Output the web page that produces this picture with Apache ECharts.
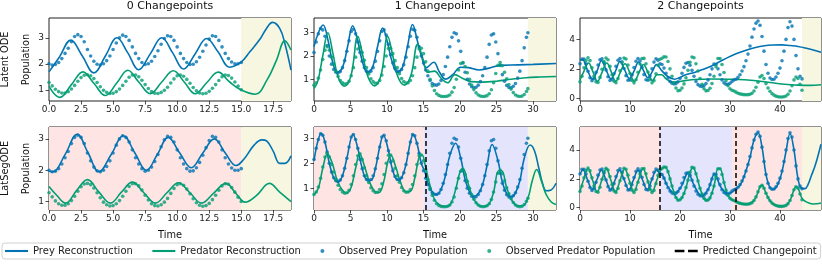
<!DOCTYPE html>
<html><head><meta charset="utf-8">
<script src="https://cdn.jsdelivr.net/npm/echarts@6/dist/echarts.min.js"></script>
<style>html,body{margin:0;padding:0;background:#fff}#c{width:822px;height:266px}</style>
</head><body><div id="c"></div><script>
// ---------- data ----------
const TITLES = ['0 Changepoints', '1 Changepoint', '2 Changepoints'];
const ROW_LABELS = ['Latent ODE', 'LatSegODE'];
const SERIES_NAMES = ['Prey Reconstruction', 'Predator Reconstruction', 'Observed Prey Population', 'Observed Predator Population', 'Predicted Changepoint'];

const X_MAX = [18.88, 33.15, 48.2];
const X_TICKS = [[0, 2.5, 5, 7.5, 10, 12.5, 15, 17.5], [0, 5, 10, 15, 20, 25, 30], [0, 10, 20, 30, 40]];
const Y_RANGE = [[0.57, 3.76], [0.07, 3.63], [-0.18, 5.45], [0.73, 3.38], [0.13, 3.45], [-0.16, 5.6]];
const Y_TICKS = [[1, 2, 3], [1, 2, 3], [0, 2, 4], [1, 2, 3], [1, 2, 3], [0, 2, 4]];

// observed data (shared by both rows of a column)
const obsT1 = [0,0.25,0.5,0.75,1,1.25,1.5,1.75,2,2.25,2.5,2.75,3,3.25,3.5,3.75,4,4.25,4.5,4.75,5,5.25,5.5,5.75,6,6.25,6.5,6.75,7,7.25,7.5,7.75,8,8.25,8.5,8.75,9,9.25,9.5,9.75,10,10.25,10.5,10.75,11,11.25,11.5,11.75,12,12.25,12.5,12.75,13,13.25,13.5,13.75,14,14.25,14.5,14.75,15];
const obsPrey1 = [2.0,1.95,1.97,2.05,2.2,2.4,2.6,2.85,3.05,3.12, 3.05,2.85,2.55,2.3,2.1,1.98,1.95,2.0,2.12,2.3, 2.55,2.8,3.0,3.1,3.05,2.9,2.65,2.4,2.2,2.05, 1.97,2.0,2.1,2.28,2.5,2.75,2.97,3.08,3.05,2.9, 2.65,2.4,2.2,2.05,1.97,1.98,2.08,2.25,2.48,2.72, 2.95,3.08,3.05,2.9,2.65,2.4,2.2,2.07,2.0,2.0, 2.05];
const obsPred1 = [1.28,1.15,1.02,0.93,0.88,0.88,0.93,1.03,1.17,1.33, 1.47,1.56,1.58,1.54,1.43,1.28,1.12,0.98,0.9,0.86, 0.87,0.93,1.03,1.17,1.33,1.48,1.57,1.57,1.5,1.37, 1.2,1.05,0.93,0.87,0.86,0.9,0.98,1.1,1.26,1.42, 1.54,1.57,1.52,1.4,1.25,1.09,0.96,0.88,0.85,0.87, 0.94,1.06,1.2,1.36,1.5,1.57,1.55,1.45,1.3,1.14, 1.0];

const obsT2 = [0,0.3,0.6,0.9,1.2,1.5,1.8,2.1,2.4,2.7, 3,3.3,3.6,3.9,4.2,4.5,4.8,5.1,5.4,5.7, 6,6.3,6.6,6.9,7.2,7.5,7.8,8.1,8.4,8.7, 9,9.3,9.6,9.9,10.2,10.5,10.8,11.1,11.4,11.7, 12,12.3,12.6,12.9,13.2,13.5,13.8,14.1,14.4,14.7, 15,15.3,15.6,15.9,16.2,16.5,16.8,17.1,17.4,17.7, 18,18.3,18.6,18.9,19.2,19.5,19.8,20.1,20.4,20.7, 21,21.3,21.6,21.9,22.2,22.5,22.8,23.1,23.4,23.7, 24,24.3,24.6,24.9,25.2,25.5,25.8,26.1,26.4,26.7, 27,27.3,27.6,27.9,28.2,28.5,28.8,29.1,29.3];
const obsPrey2 = [2.15,2.6,2.95,3.18,3.12,2.85,2.45,2.0,1.65,1.42, 1.3,1.27,1.33,1.5,1.8,2.2,2.65,3.05,3.15,2.95, 2.6,2.15,1.78,1.5,1.35,1.3,1.35,1.5,1.78,2.2, 2.65,3.05,3.12,2.9,2.5,2.05,1.7,1.47,1.35,1.33, 1.42,1.62,1.95,2.4,2.85,3.15,3.1,2.8,2.4,2.0, 1.7,1.4,1.15,0.95,0.82,0.76,0.75,0.8,0.95,1.2, 1.55,1.95,2.4,2.8,3.0,2.95,2.65,2.2,1.7,1.3, 1.0,0.8,0.68,0.64,0.66,0.75,0.9,1.15,1.5,1.95, 2.5,2.9,2.95,2.6,2.1,1.6,1.2,0.92,0.74,0.65, 0.64,0.7,0.82,1.05,1.35,1.8,2.35,2.8,3.0];
const obsPred2 = [0.75,0.85,1.05,1.4,1.85,2.25,2.4,2.25,1.95,1.65, 1.35,1.12,0.95,0.85,0.8,0.82,0.92,1.15,1.5,1.95, 2.3,2.38,2.15,1.82,1.5,1.23,1.02,0.9,0.83,0.84, 0.95,1.18,1.55,2.0,2.32,2.33,2.1,1.8,1.5,1.24, 1.03,0.9,0.84,0.85,0.95,1.15,1.5,1.95,2.3,2.33, 2.1,1.75,1.35,1.0,0.72,0.52,0.38,0.31,0.27,0.26, 0.26,0.28,0.33,0.45,0.65,1.0,1.4,1.68,1.72,1.55, 1.28,1.0,0.75,0.56,0.42,0.33,0.28,0.26,0.27,0.3, 0.38,0.55,0.85,1.25,1.6,1.72,1.58,1.3,1.02,0.78, 0.58,0.43,0.33,0.28,0.26,0.28,0.35,0.48,0.6];

const obsT3 = [0,0.4,0.8,1.2,1.6,2,2.4,2.8,3.2,3.6, 4,4.4,4.8,5.2,5.6,6,6.4,6.8,7.2,7.6, 8,8.4,8.8,9.2,9.6,10,10.4,10.8,11.2,11.6, 12,12.4,12.8,13.2,13.6,14,14.4,14.8,15.2,15.6, 16,16.4,16.8,17.2,17.6,18,18.4,18.8,19.2,19.6, 20,20.4,20.8,21.2,21.6,22,22.4,22.8,23.2,23.6, 24,24.4,24.8,25.2,25.6,26,26.4,26.8,27.2,27.6, 28,28.4,28.8,29.2,29.6,30,30.4,30.8,31.2,31.6, 32,32.4,32.8,33.2,33.6,34,34.4,34.8,35.2,35.6, 36,36.4,36.8,37.2,37.6,38,38.4,38.8,39.2,39.6, 40,40.4,40.8,41.2,41.6,42,42.4,42.8,43.2,43.6, 44,44.4];
const obsPrey3 = [2.34,2.66,2.66,2.34,1.84,1.40,1.20,1.34,1.76,2.26, 2.62,2.68,2.41,1.93,1.46,1.21,1.29,1.67,2.17,2.58, 2.70,2.48,2.02,1.54,1.23,1.25,1.59,2.09,2.52,2.70, 2.54,2.11,1.61,1.26,1.23,1.51,2.0,2.46,2.69,2.59, 2.35,2.3,2.05,1.7,1.38,1.15,1.02,0.97,1.0,1.12, 1.35,1.7,2.1,2.38,2.43,2.25,1.9,1.5,1.15,0.93, 0.83,0.81,0.86,1.0,1.25,1.6,2.0,2.33,2.3,2.0, 1.6,1.25,1.05,0.96,0.95,1.02,1.15,1.25,1.3,1.42, 1.6,1.85,2.15,2.55,3.0,3.55,4.15,4.7,5.1,5.25, 4.95,4.2,3.2,2.3,1.7,1.38,1.28,1.3,1.45,1.7, 2.05,2.55,3.2,4.0,4.8,5.2,4.9,4.0,2.9,2.0, 1.5,1.32];
const obsPred3 = [1.12,1.50,2.07,2.56,2.75,2.56,2.07,1.50,1.12,1.08, 1.42,1.97,2.49,2.74,2.62,2.17,1.60,1.16,1.06,1.34, 1.87,2.41,2.73,2.67,2.26,1.69,1.22,1.05,1.26,1.77, 2.33,2.70,2.71,2.35,1.79,1.28,1.05,1.20,1.67,2.24, 2.65,2.72,2.82,2.8,2.5,2.0,1.5,1.05,0.7,0.52, 0.55,0.7,0.98,1.4,1.9,2.45,2.8,2.75,2.35,1.85, 1.35,0.95,0.65,0.51,0.53,0.68,1.0,1.5,2.15,2.7, 2.7,2.3,1.75,1.2,0.85,0.65,0.55,0.5,0.42,0.35, 0.3,0.27,0.25,0.24,0.25,0.28,0.35,0.5,0.75,1.1, 1.45,1.55,1.35,1.0,0.7,0.48,0.32,0.22,0.15,0.11, 0.09,0.09,0.11,0.16,0.28,0.5,0.85,1.25,1.45,1.35, 0.95,0.55];

// reconstructions [time, value]
const latentPrey1 = [[0,1.69],[0.8,2.25],[1.7,2.91],[2.6,2.3],[3.5,1.65],[4.4,2.3],[5.3,3.0],[6.15,2.42],[7.0,1.77],[7.9,2.38],[8.8,3.0],[9.65,2.42],[10.5,1.8],[11.4,2.38],[12.3,2.97],[13.2,2.45],[14.1,1.87],[15.0,2.07],[15.67,2.46],[16.45,2.94],[16.97,3.36],[17.44,3.59],[18.0,3.36],[18.4,2.78],[18.88,1.76]];
const latentPred1 = [[0,1.14],[0.4,0.85],[0.85,0.71],[1.75,1.2],[2.65,1.69],[3.5,1.25],[4.4,0.78],[5.3,1.27],[6.15,1.75],[7.0,1.3],[7.9,0.85],[8.8,1.3],[9.7,1.73],[10.55,1.3],[11.4,0.85],[12.3,1.27],[13.2,1.68],[14.1,1.3],[15.0,0.99],[16.1,0.83],[17.0,1.37],[17.75,2.14],[18.4,2.88],[18.88,2.53]];
const segPrey1 = [[0,1.97],[0.3,1.95],[1.25,2.5],[2.2,3.15],[3.05,2.55],[3.9,1.95],[4.85,2.5],[5.8,3.1],[6.7,2.55],[7.6,2.0],[8.45,2.5],[9.3,3.05],[10.2,2.55],[11.1,2.08],[12.0,2.55],[12.9,3.0],[13.75,2.55],[14.6,2.15],[15.2,2.35],[16.0,2.8],[16.6,2.97],[17.0,2.93],[17.5,2.6],[18.0,2.22],[18.4,2.22],[18.88,2.46]];
const segPred1 = [[0,1.48],[0.6,1.2],[1.3,0.95],[2.15,1.35],[3.0,1.7],[3.9,1.3],[4.8,0.95],[5.65,1.3],[6.5,1.62],[7.4,1.28],[8.3,0.95],[9.2,1.28],[10.1,1.6],[11.0,1.28],[11.9,0.95],[12.85,1.27],[13.8,1.58],[14.6,1.25],[15.3,0.98],[16.2,1.2],[17.2,1.58],[18.0,1.3],[18.88,1.0]];

const latentPrey2 = [[0,2.4],[0.6,3.0],[1.25,3.33],[1.9,2.7],[2.5,1.8],[3.2,1.3],[3.9,1.5],[4.6,2.4],[5.3,3.3],[5.95,2.7],[6.6,1.8],[7.3,1.3],[8.0,1.5],[8.7,2.4],[9.4,3.2],[10.05,2.6],[10.7,1.75],[11.4,1.3],[12.1,1.5],[12.8,2.4],[13.5,3.35],[14.2,2.6],[14.8,1.9],[15.4,1.5],[16.4,1.73],[17.2,1.3],[18.0,1.01],[19.0,1.2],[20.1,1.52],[21.2,1.5],[22.6,1.4],[24.0,1.48],[25.5,1.6],[28.0,1.62],[30.0,1.64],[33.15,1.68]];
const latentPred2 = [[0,0.61],[0.5,0.9],[1.2,2.0],[1.9,3.0],[2.6,2.1],[3.3,1.1],[4.2,0.7],[5.1,1.2],[6.0,2.85],[6.7,2.0],[7.4,1.1],[8.3,0.72],[9.2,1.2],[10.1,2.85],[10.8,2.0],[11.5,1.1],[12.4,0.75],[13.3,1.2],[14.2,2.5],[14.9,1.9],[15.6,1.3],[16.5,1.35],[17.4,1.05],[18.3,0.85],[19.3,1.2],[20.3,1.05],[21.5,0.9],[23.0,0.88],[25.0,0.92],[27.0,1.0],[29.0,1.07],[31.0,1.1],[33.15,1.12]];
const segPrey2 = [[0,2.1],[0.5,2.85],[1.0,3.2],[1.5,2.85],[2.1,2.0],[2.7,1.42],[3.3,1.25],[3.9,1.5],[4.5,2.2],[5.35,3.15],[6.0,2.6],[6.6,1.8],[7.2,1.35],[7.8,1.32],[8.4,1.78],[9.0,2.65],[9.5,3.12],[10.2,2.5],[10.8,1.7],[11.5,1.33],[12.0,1.42],[12.6,1.95],[13.2,2.85],[13.6,3.15],[14.1,2.8],[14.7,2.0],[15.25,1.6],[15.6,1.2],[16.2,0.85],[16.8,0.75],[17.4,0.95],[18.0,1.5],[18.6,2.3],[19.4,2.8],[20.1,2.2],[20.7,1.35],[21.3,0.85],[21.9,0.68],[22.5,0.78],[23.1,1.15],[23.7,1.9],[24.4,2.75],[25.2,2.1],[25.8,1.25],[26.4,0.78],[27.0,0.66],[27.6,0.82],[28.2,1.3],[28.8,2.2],[29.6,2.73],[30.2,2.5],[30.8,1.8],[31.3,1.2],[31.8,0.9],[32.4,0.92],[33.15,1.2]];
const segPred2 = [[0,0.75],[0.6,1.0],[1.2,1.8],[1.85,2.38],[2.5,2.0],[3.2,1.3],[3.9,0.92],[4.5,0.8],[5.1,1.05],[5.7,1.8],[6.25,2.38],[6.9,1.9],[7.6,1.25],[8.3,0.88],[8.9,0.83],[9.5,1.2],[10.1,2.05],[10.5,2.33],[11.2,1.85],[11.9,1.2],[12.6,0.86],[13.2,0.88],[13.8,1.4],[14.4,2.25],[14.8,2.33],[15.25,1.9],[15.9,1.1],[16.5,0.55],[17.2,0.33],[18.0,0.27],[18.7,0.36],[19.4,0.95],[20.0,1.65],[20.4,1.8],[21.0,1.3],[21.6,0.75],[22.4,0.35],[23.2,0.27],[24.0,0.38],[24.6,0.85],[25.3,1.7],[25.7,1.7],[26.4,1.02],[27.1,0.52],[27.9,0.3],[28.6,0.3],[29.3,0.6],[29.9,1.3],[30.5,1.75],[31.2,1.25],[31.8,0.75],[32.5,0.45],[33.15,0.35]];

const latentPrey3 = [[0,2.6],[0.5,2.62],[1.5,1.9],[2.5,1.3],[3.4,1.85],[4.3,2.55],[5.2,1.95],[6.2,1.32],[7.1,1.85],[8.0,2.5],[8.9,1.95],[9.9,1.35],[10.8,1.85],[11.7,2.45],[12.6,1.95],[13.6,1.4],[14.5,1.85],[15.3,2.3],[16.3,1.9],[17.5,1.5],[18.9,1.3],[20.0,1.42],[21.0,1.58],[22.9,1.76],[24.5,1.95],[26.3,2.2],[28.0,2.5],[29.6,2.78],[31.2,3.02],[32.9,3.23],[34.9,3.43],[36.9,3.57],[38.6,3.62],[40.3,3.63],[42.0,3.58],[43.6,3.52],[45.5,3.38],[47.0,3.25],[48.2,3.12]];
const latentPred3 = [[0,1.25],[0.8,1.85],[1.7,2.4],[2.6,1.8],[3.5,1.15],[4.45,1.8],[5.35,2.4],[6.25,1.8],[7.15,1.15],[8.1,1.8],[9.0,2.35],[9.9,1.8],[10.85,1.15],[11.8,1.75],[12.7,2.3],[13.6,1.75],[14.5,1.2],[15.4,1.6],[16.3,1.6],[17.3,1.3],[18.5,1.1],[19.5,1.12],[21.0,1.2],[23.0,1.28],[26.3,1.31],[29.6,1.3],[32.9,1.26],[36.9,1.13],[40.3,0.97],[43.6,0.9],[46.0,0.88],[48.2,0.92]];
const segPrey3 = [[0,2.35],[0.6,2.62],[1.52,1.92],[2.43,1.25],[3.35,1.92],[4.27,2.6],[5.19,1.92],[6.1,1.25],[7.02,1.92],[7.93,2.6],[8.85,1.92],[9.77,1.25],[10.68,1.92],[11.6,2.6],[12.52,1.92],[13.43,1.25],[14.35,1.92],[15.27,2.6],[16.0,2.38],[16.6,2.2],[17.5,1.5],[18.9,1.0],[20.3,1.5],[21.6,2.4],[22.9,1.5],[24.3,0.83],[25.6,1.25],[26.9,2.32],[28.2,1.4],[29.6,0.97],[30.5,1.1],[31.1,1.3],[32.0,1.55],[33.0,2.35],[34.0,3.5],[34.8,4.7],[35.6,5.2],[36.4,4.2],[37.2,2.3],[38.0,1.4],[38.7,1.28],[39.6,1.65],[40.4,2.5],[41.2,3.9],[42.0,5.15],[42.8,4.0],[43.6,2.0],[44.3,1.35],[45.0,1.32],[45.6,1.6],[46.3,2.25],[47.0,2.9],[47.6,3.6],[48.2,4.4]];
const segPred3 = [[0,1.12],[0.68,1.9],[1.6,2.72],[2.52,1.9],[3.43,1.1],[4.35,1.9],[5.27,2.72],[6.18,1.9],[7.1,1.1],[8.02,1.9],[8.93,2.72],[9.85,1.9],[10.77,1.1],[11.68,1.9],[12.6,2.72],[13.52,1.9],[14.43,1.1],[15.35,1.9],[16.0,2.5],[16.4,2.72],[17.0,2.82],[17.6,2.5],[18.4,1.5],[19.2,0.7],[19.8,0.52],[20.4,0.7],[21.2,1.4],[22.0,2.45],[22.6,2.8],[23.2,2.35],[24.0,1.35],[24.8,0.65],[25.4,0.5],[26.0,0.68],[26.8,1.5],[27.6,2.7],[28.0,2.7],[28.8,1.75],[29.6,0.85],[30.4,0.55],[31.0,0.45],[32.0,0.3],[33.2,0.24],[34.4,0.35],[35.2,0.75],[36.0,1.45],[36.4,1.55],[37.2,1.0],[38.0,0.48],[38.8,0.22],[40.0,0.09],[41.2,0.16],[42.0,0.5],[42.8,1.25],[43.2,1.45],[43.6,1.35],[44.4,0.65],[45.0,0.45],[45.8,0.32],[46.6,0.26],[47.4,0.27],[48.2,0.33]];

// true segments per panel: [start, end, kind]  (kind: r = segment A, b = segment B, y = extrapolation)
const SEGMENTS = [
  [[15.0, 18.88, 'y']],
  [[29.3, 33.15, 'y']],
  [[44.4, 48.2, 'y']],
  [[0, 15.0, 'r'], [15.0, 18.88, 'y']],
  [[0, 15.0, 'r'], [15.0, 29.3, 'b'], [29.3, 33.15, 'y']],
  [[0, 16.0, 'r'], [16.0, 30.4, 'b'], [30.4, 44.4, 'r'], [44.4, 48.2, 'y']]
];
const CHANGEPOINTS = [[], [], [], [], [15.25], [16.0, 31.07]];

// ---------- chart ----------
const BLUE = '#0173b2', GREEN = '#029e73';
const SHADE = { r: '#ffe4e4', b: '#e4e4fd', y: '#f7f6e0' };
const FONT = 'DejaVu Sans';
const GL = [49, 314, 580], GW = [242, 242, 241], GT = [18, 127], GH = 83;
const OBS_T = [obsT1, obsT2, obsT3], OBS_PREY = [obsPrey1, obsPrey2, obsPrey3], OBS_PRED = [obsPred1, obsPred2, obsPred3];
const RECON = [
  [latentPrey1, latentPred1], [latentPrey2, latentPred2], [latentPrey3, latentPred3],
  [segPrey1, segPred1], [segPrey2, segPred2], [segPrey3, segPred3]
];

const grid = [], xAxis = [], yAxis = [], series = [];
for (let p = 0; p < 6; p++) {
  const col = p % 3, row = Math.floor(p / 3);
  grid.push({ left: GL[col], top: GT[row], width: GW[col], height: GH, show: true, borderColor: '#222', borderWidth: 1, backgroundColor: 'transparent' });
  const lbl = { fontSize: 9, color: '#222', fontFamily: FONT };
  xAxis.push({
    type: 'value', gridIndex: p, min: 0, max: X_MAX[col],
    splitLine: { show: false }, axisLine: { show: false, onZero: false },
    axisTick: { show: true, length: 3.5, customValues: X_TICKS[col], lineStyle: { color: '#222', width: 0.8 } },
    axisLabel: Object.assign({ customValues: X_TICKS[col], margin: 4.5, formatter: col === 0 ? (v => v.toFixed(1)) : (v => String(v)) }, lbl)
  });
  yAxis.push({
    type: 'value', gridIndex: p, min: Y_RANGE[p][0], max: Y_RANGE[p][1],
    splitLine: { show: false }, axisLine: { show: false, onZero: false },
    axisTick: { show: true, length: 3.5, customValues: Y_TICKS[p], lineStyle: { color: '#222', width: 0.8 } },
    axisLabel: Object.assign({ customValues: Y_TICKS[p], margin: 5 }, lbl)
  });
  series.push({
    type: 'line', name: 'shade' + p, xAxisIndex: p, yAxisIndex: p, data: [], z: 1, silent: true,
    markArea: { silent: true, data: SEGMENTS[p].map(s => [{ xAxis: s[0], itemStyle: { color: SHADE[s[2]] } }, { xAxis: s[1] }]) }
  });
  series.push({ type: 'line', name: SERIES_NAMES[0], xAxisIndex: p, yAxisIndex: p, data: RECON[p][0], smooth: 0.4, showSymbol: false, color: BLUE, lineStyle: { width: 1.6 }, z: 2, silent: true });
  series.push({ type: 'line', name: SERIES_NAMES[1], xAxisIndex: p, yAxisIndex: p, data: RECON[p][1], smooth: 0.4, showSymbol: false, color: GREEN, lineStyle: { width: 1.6 }, z: 2, silent: true });
  const T = OBS_T[col];
  series.push({ type: 'scatter', name: SERIES_NAMES[2], xAxisIndex: p, yAxisIndex: p, data: T.map((t, i) => [t, OBS_PREY[col][i]]), symbolSize: 3.6, color: BLUE, z: 4, silent: true });
  series.push({ type: 'scatter', name: SERIES_NAMES[3], xAxisIndex: p, yAxisIndex: p, data: T.map((t, i) => [t, OBS_PRED[col][i]]), symbolSize: 3.6, color: GREEN, z: 4, silent: true });
  series.push({
    type: 'line', name: SERIES_NAMES[4], xAxisIndex: p, yAxisIndex: p, data: [], color: '#000', z: 5, silent: true,
    markLine: { silent: true, symbol: 'none', label: { show: false }, lineStyle: { color: '#000', type: [5, 3], width: 1.5 }, data: CHANGEPOINTS[p].map(c => ({ xAxis: c })) }
  });
}

const graphic = [];
const txt = (text, x, y, size, rot) => ({
  type: 'text', x: x, y: y, rotation: rot || 0, silent: true,
  style: { text: text, fill: '#111', fontSize: size, fontFamily: FONT, align: 'center', verticalAlign: 'middle', textAlign: 'center', textVerticalAlign: 'middle' }
});
TITLES.forEach((t, i) => graphic.push(txt(t, GL[i] + GW[i] / 2, 6, 11)));
ROW_LABELS.forEach((t, r) => {
  graphic.push(txt(t, 5.5, GT[r] + GH / 2, 9.8, Math.PI / 2));
  graphic.push(txt('Population', 26.5, GT[r] + GH / 2, 9.8, Math.PI / 2));
});
[0, 1, 2].forEach(i => graphic.push(txt('Time', GL[i] + GW[i] / 2, 235, 9.8)));

const LINE_ICON = 'path://M0,0H24V2.2H0Z';
const DASH_ICON = 'path://M0,0H8V2.2H0Z M11,0H19V2.2H11Z';
const chart = echarts.init(document.getElementById('c'), null, { renderer: 'canvas' });
chart.setOption({
  animation: false,
  backgroundColor: '#fff',
  grid, xAxis, yAxis, series, graphic,
  legend: {
    left: 2, top: 243, padding: [3, 4, 3, 3], itemGap: 19.5, itemWidth: 23, itemHeight: 4,
    borderColor: '#d0d0d0', borderWidth: 1, borderRadius: 3, backgroundColor: '#fff',
    selectedMode: false,
    textStyle: { fontFamily: FONT, fontSize: 10, color: '#222' },
    data: [
      { name: SERIES_NAMES[0], icon: LINE_ICON },
      { name: SERIES_NAMES[1], icon: LINE_ICON },
      { name: SERIES_NAMES[2], icon: 'circle' },
      { name: SERIES_NAMES[3], icon: 'circle' },
      { name: SERIES_NAMES[4], icon: DASH_ICON }
    ]
  }
});
</script></body></html>
